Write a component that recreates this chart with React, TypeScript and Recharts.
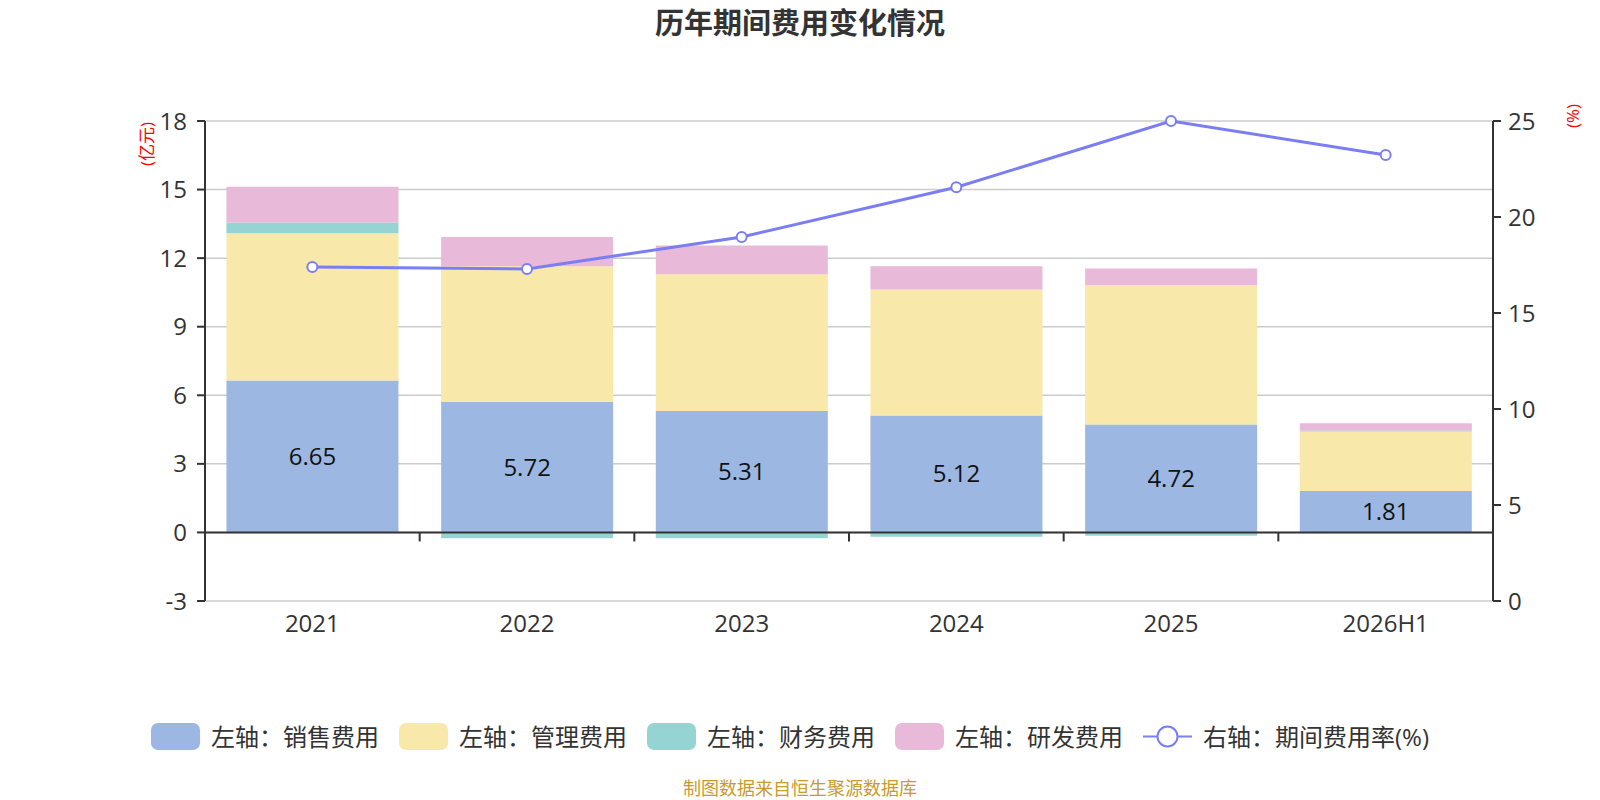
import React from "react";
import {
  Bar,
  CartesianGrid,
  ComposedChart,
  LabelList,
  Line,
  ReferenceLine,
  XAxis,
  YAxis,
} from "recharts";

const categories = ["2021", "2022", "2023", "2024", "2025", "2026H1"];
const sales = [6.65, 5.72, 5.31, 5.12, 4.72, 1.81];
const admin = [6.44, 5.92, 5.98, 5.51, 6.1, 2.61];
const finance = [0.47, -0.25, -0.25, -0.19, -0.15, 0.04];
const rd = [1.56, 1.28, 1.26, 1.02, 0.73, 0.32];
const rate = [17.4, 17.29, 18.96, 21.55, 25.0, 23.23];

const leftTicks = [-3, 0, 3, 6, 9, 12, 15, 18];
const rightTicks = [0, 5, 10, 15, 20, 25];

const series = [
  { key: "sales", name: "左轴：销售费用", color: "#9cb8e2" },
  { key: "admin", name: "左轴：管理费用", color: "#f8e8a9" },
  { key: "finance", name: "左轴：财务费用", color: "#96d4d4" },
  { key: "rd", name: "左轴：研发费用", color: "#e8b9d8" },
];
const lineColor = "#7b7df5";
const lineName = "右轴：期间费用率(%)";

const data = categories.map((name, i) => ({
  name,
  sales: sales[i],
  admin: admin[i],
  finance: finance[i],
  rd: rd[i],
  rate: rate[i],
}));

const font = "'Open Sans', 'Noto Sans CJK SC', sans-serif";
const tickStyle = { fontSize: 24, fill: "#333", fontFamily: font };

// zero line drawn as the x axis, with small ticks between categories
function ZeroAxis(props: any) {
  const { x1, y1, x2 } = props;
  const n = categories.length;
  const step = (x2 - x1) / n;
  return (
    <g>
      <line x1={x1} y1={y1} x2={x2} y2={y1} stroke="#333" strokeWidth={2} />
      {categories.slice(1).map((c, i) => (
        <line
          key={c}
          x1={x1 + step * (i + 1)}
          x2={x1 + step * (i + 1)}
          y1={y1}
          y2={y1 + 9}
          stroke="#333"
          strokeWidth={2}
        />
      ))}
    </g>
  );
}

function LegendRow() {
  return (
    <div
      style={{
        position: "absolute",
        left: 151,
        top: 723,
        display: "flex",
        alignItems: "center",
        gap: 20,
        fontFamily: font,
        fontSize: 24,
        color: "#333",
        whiteSpace: "nowrap",
      }}
    >
      {series.map((s) => (
        <div key={s.key} style={{ display: "flex", alignItems: "center" }}>
          <div style={{ width: 49, height: 27, borderRadius: 7, background: s.color }} />
          <span style={{ marginLeft: 11, lineHeight: "27px" }}>{s.name}</span>
        </div>
      ))}
      <div style={{ display: "flex", alignItems: "center" }}>
        <svg width={49} height={27}>
          <line x1={0} y1={13.5} x2={49} y2={13.5} stroke={lineColor} strokeWidth={2} />
          <circle cx={24.5} cy={13.5} r={10} fill="#fff" stroke={lineColor} strokeWidth={2} />
        </svg>
        <span style={{ marginLeft: 11, lineHeight: "27px" }}>{lineName}</span>
      </div>
    </div>
  );
}

export default function App() {
  return (
    <div
      style={{
        position: "absolute",
        left: 0,
        top: 0,
        width: 1600,
        height: 800,
        background: "#fff",
        fontFamily: font,
      }}
    >
      <div
        style={{
          position: "absolute",
          left: 0,
          top: 0,
          width: 1600,
          textAlign: "center",
          fontSize: 29,
          fontWeight: 700,
          lineHeight: "45px",
          color: "#333",
        }}
      >
        历年期间费用变化情况
      </div>

      <div
        style={{
          position: "absolute",
          left: 145,
          top: 144,
          transform: "translate(-50%, -50%) rotate(-90deg)",
          color: "#ff0000",
          fontSize: 17,
          whiteSpace: "nowrap",
        }}
      >
        (亿元)
      </div>
      <div
        style={{
          position: "absolute",
          left: 1572,
          top: 116,
          transform: "translate(-50%, -50%) rotate(-90deg)",
          color: "#ff0000",
          fontSize: 17,
          whiteSpace: "nowrap",
        }}
      >
        (%)
      </div>

      <ComposedChart
        width={1600}
        height={800}
        data={data}
        stackOffset="sign"
        barCategoryGap="10%"
        margin={{ top: 121, right: 47, bottom: 159, left: 145 }}
      >
        <CartesianGrid yAxisId="left" vertical={false} stroke="#cccccc" strokeWidth={1.5} />
        <XAxis
          dataKey="name"
          axisLine={false}
          tickLine={false}
          tickMargin={8}
          height={40}
          tick={tickStyle}
        />
        <YAxis
          yAxisId="left"
          domain={[-3, 18]}
          ticks={leftTicks}
          width={60}
          axisLine={{ stroke: "#333", strokeWidth: 2 }}
          tickLine={{ stroke: "#333", strokeWidth: 2 }}
          tickSize={8}
          tickMargin={10}
          tick={tickStyle}
        />
        <YAxis
          yAxisId="right"
          orientation="right"
          domain={[0, 25]}
          ticks={rightTicks}
          width={60}
          axisLine={{ stroke: "#333", strokeWidth: 2 }}
          tickLine={{ stroke: "#333", strokeWidth: 2 }}
          tickSize={8}
          tickMargin={7}
          tick={tickStyle}
        />
        {series.map((s) => (
          <Bar
            key={s.key}
            dataKey={s.key}
            name={s.name}
            yAxisId="left"
            stackId="cost"
            fill={s.color}
            isAnimationActive={false}
          >
            {s.key === "sales" ? (
              <LabelList
                dataKey="sales"
                position="center"
                fill="#111"
                fontSize={24}
                fontFamily={font}
                formatter={(v: any) => Number(v).toFixed(2)}
              />
            ) : null}
          </Bar>
        ))}
        <ReferenceLine yAxisId="left" y={0} shape={ZeroAxis} />
        <Line
          yAxisId="right"
          dataKey="rate"
          name={lineName}
          stroke={lineColor}
          strokeWidth={3}
          dot={{ r: 5, fill: "#fff", stroke: lineColor, strokeWidth: 2 }}
          isAnimationActive={false}
        />
      </ComposedChart>

      <LegendRow />

      <div
        style={{
          position: "absolute",
          left: 0,
          top: 776,
          width: 1600,
          textAlign: "center",
          fontSize: 18,
          lineHeight: "24px",
          color: "#c99a2e",
        }}
      >
        制图数据来自恒生聚源数据库
      </div>
    </div>
  );
}
